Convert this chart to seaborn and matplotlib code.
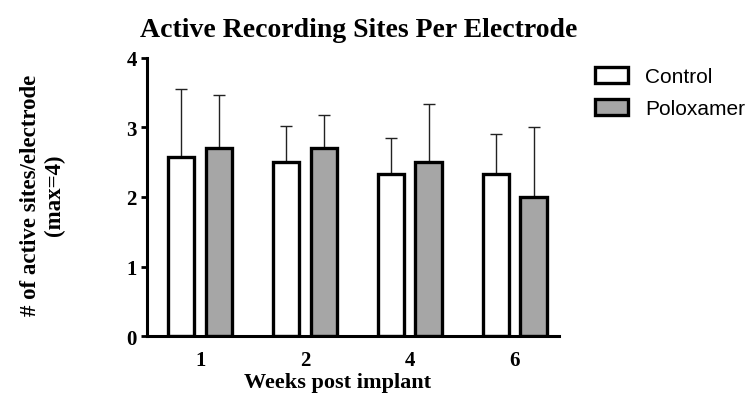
import numpy as np
import pandas as pd
import matplotlib.pyplot as plt
import seaborn as sns

weeks = ['1', '2', '4', '6']
groups = ['Control', 'Poloxamer']
control_mean = [2.57, 2.50, 2.33, 2.33]
poloxamer_mean = [2.71, 2.70, 2.50, 2.00]
control_err = [0.98, 0.52, 0.52, 0.58]
poloxamer_err = [0.76, 0.48, 0.83, 1.00]

df = pd.DataFrame({
    'week': weeks * 2,
    'group': ['Control'] * len(weeks) + ['Poloxamer'] * len(weeks),
    'value': control_mean + poloxamer_mean,
})

sns.set_style('ticks')
plt.rcParams['text.color'] = 'black'
plt.rcParams['axes.labelcolor'] = 'black'
plt.rcParams['xtick.color'] = 'black'
plt.rcParams['ytick.color'] = 'black'
plt.rcParams['axes.edgecolor'] = 'black'
serif = 'Liberation Serif'
sans = 'Liberation Sans'

fig = plt.figure(figsize=(7.52, 4.02), dpi=100)
ax = fig.add_axes([0.195, 0.161, 0.548, 0.693])

sns.barplot(data=df, x='week', y='value', hue='group', hue_order=groups,
            palette={'Control': 'white', 'Poloxamer': '#a6a6a6'},
            edgecolor='black', linewidth=2.4, width=0.72, gap=0.3,
            errorbar=None, legend=False, ax=ax, zorder=2)
bar_sets = list(ax.containers)

# upper-only error bars
for cont, err in zip(bar_sets, [control_err, poloxamer_err]):
    xs = [b.get_x() + b.get_width() / 2 for b in cont]
    ys = [b.get_height() for b in cont]
    ax.errorbar(xs, ys, yerr=[np.zeros(len(err)), err], fmt='none',
                ecolor='#222222', elinewidth=1.0, capsize=4, capthick=1.0,
                zorder=1)

ax.set_ylim(0, 4)
ax.set_xlim(-0.51, 3.42)
ax.set_yticks([0, 1, 2, 3, 4])
sns.despine(ax=ax)
for s in ['left', 'bottom']:
    ax.spines[s].set_linewidth(2.2)
ax.tick_params(axis='y', length=4, width=2, pad=3)
ax.tick_params(axis='x', length=0, pad=10)
for lab in ax.get_xticklabels() + ax.get_yticklabels():
    lab.set_fontfamily(serif)
    lab.set_fontweight('bold')
    lab.set_fontsize(15)

ax.set_xlabel('Weeks post implant', fontfamily=serif, fontweight='bold', fontsize=16)
ax.xaxis.set_label_coords(0.464, -0.13)
ax.set_ylabel('# of active sites/electrode\n(max=4)', fontfamily=serif,
              fontweight='bold', fontsize=16.5, linespacing=1.15)
ax.yaxis.set_label_coords(-0.198, 0.51)

fig.text(359 / 752, 1 - 37 / 402, 'Active Recording Sites Per Electrode',
         ha='center', va='baseline', fontfamily=serif, fontweight='bold',
         fontsize=20)

handles = [c.patches[0] for c in bar_sets]
ax.legend(handles, groups, loc='upper left', bbox_to_anchor=(0.791, 0.831),
          bbox_transform=fig.transFigure, frameon=False, borderpad=0,
          borderaxespad=0, handlelength=1.6, handleheight=0.8,
          handletextpad=0.8, labelspacing=0.6,
          prop={'family': sans, 'size': 15})

fig.savefig('out.png', dpi=100)
